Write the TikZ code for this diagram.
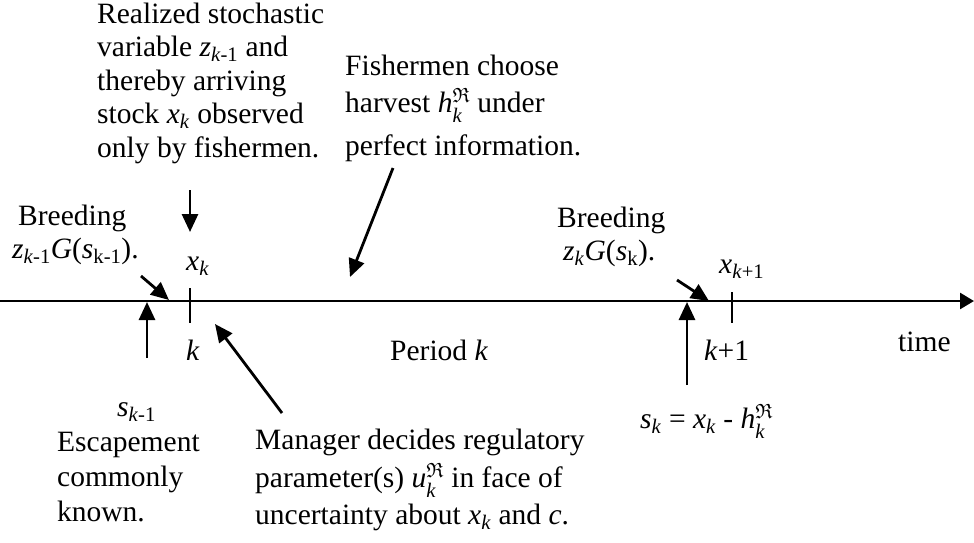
\documentclass[tikz,border=0pt]{standalone}
\usepackage{amsmath,amssymb}
\usepackage{fontspec}
\setmainfont{Liberation Serif}
\usetikzlibrary{arrows.meta}
\newcommand\ksub{\textsubscript{\textit{k}}}
\newcommand\kmo{\textsubscript{\textit{k}-1}}
\newcommand\kpo{\textsubscript{\textit{k}+1}}
\newcommand\fr[1]{\textit{#1}$^{\mathfrak{R}}_{\textit{k}}$}
\tikzset{
  lbl/.style={anchor=base west,inner sep=0pt,font=\fontsize{29.5}{35}\selectfont},
  ptr/.style={line width=2.8pt,-{Triangle[length=18pt,width=16pt]}},
  axis/.style={line width=2.6pt,-{Triangle[length=14pt,width=16pt]}},
  tick/.style={line width=1.6pt}
}
\begin{document}
\begin{tikzpicture}[x=1pt,y=-1pt]
\useasboundingbox (0,0) rectangle (974,542);
% timeline
\coordinate (t0) at (0,301);
\coordinate (t1) at (974,301);
\draw[axis] (t0) -- (t1);
\coordinate (k0a) at (190,288); \coordinate (k0b) at (190,323);
\draw[tick] (k0a) -- (k0b);
\coordinate (k1a) at (732,292); \coordinate (k1b) at (732,323);
\draw[tick] (k1a) -- (k1b);
% top-left text
\node[lbl] (r1) at (97,23) {Realized stochastic};
\node[lbl] (r2) at (97,56) {variable \textit{z}\kmo{} and};
\node[lbl] (r3) at (97,90) {thereby arriving};
\node[lbl] (r4) at (97,123) {stock \textit{x}\ksub{} observed};
\node[lbl] (r5) at (97,157) {only by fishermen.};
% fishermen
\node[lbl] (f1) at (345,75) {Fishermen choose};
\node[lbl] (f2) at (345,112) {harvest \fr{h} under};
\node[lbl] (f3) at (345,155) {perfect information.};
% breeding left
\node[lbl] (b1) at (18,225) {Breeding};
\node[lbl] (b2) at (12,258) {\textit{z}\kmo\textit{G}(\textit{s}\textsubscript{k-1}).};
% breeding right
\node[lbl] (c1) at (557,227) {Breeding};
\node[lbl] (c2) at (563,260) {\textit{z}\ksub\textit{G}(\textit{s}\textsubscript{k}).};
% labels on axis
\node[lbl] (xk) at (186,270) {\textit{x}\ksub};
\node[lbl] (xk1) at (719,273) {\textit{x}\kpo};
\node[lbl] (kk) at (186,360) {\textit{k}};
\node[lbl] (kk1) at (704,360) {\textit{k}+1};
\node[lbl] (per) at (390,360) {Period \textit{k}};
\node[lbl] (time) at (898,351) {time};
% bottom left
\node[lbl] (sk1) at (117,416) {\textit{s}\kmo};
\node[lbl] (e1) at (57,451) {Escapement};
\node[lbl] (e2) at (57,486) {commonly};
\node[lbl] (e3) at (57,521) {known.};
% manager
\node[lbl] (m1) at (255,449) {Manager decides regulatory};
\node[lbl] (m2) at (255,487) {parameter(s) \fr{u} in face of};
\node[lbl] (m3) at (255,524) {uncertainty about \textit{x}\ksub{} and \textit{c}.};
% bottom right
\node[lbl] (sk) at (640,428) {\textit{s}\ksub{} = \textit{x}\ksub{} - \fr{h}};
% arrows
\coordinate (a1s) at (190,190); \coordinate (a1e) at (190,232);
\draw[ptr] (a1s) -- (a1e);
\coordinate (a2s) at (141,276); \coordinate (a2e) at (169,300);
\draw[ptr] (a2s) -- (a2e);
\coordinate (a3s) at (147,358); \coordinate (a3e) at (147,302);
\draw[ptr] (a3s) -- (a3e);
\coordinate (a4s) at (282,413); \coordinate (a4e) at (215,324);
\draw[ptr] (a4s) -- (a4e);
\coordinate (a5s) at (393,168); \coordinate (a5e) at (350,277);
\draw[ptr] (a5s) -- (a5e);
\coordinate (a6s) at (677,280); \coordinate (a6e) at (709,301);
\draw[ptr] (a6s) -- (a6e);
\coordinate (a7s) at (687,385); \coordinate (a7e) at (687,302);
\draw[ptr] (a7s) -- (a7e);
\end{tikzpicture}
\end{document}
